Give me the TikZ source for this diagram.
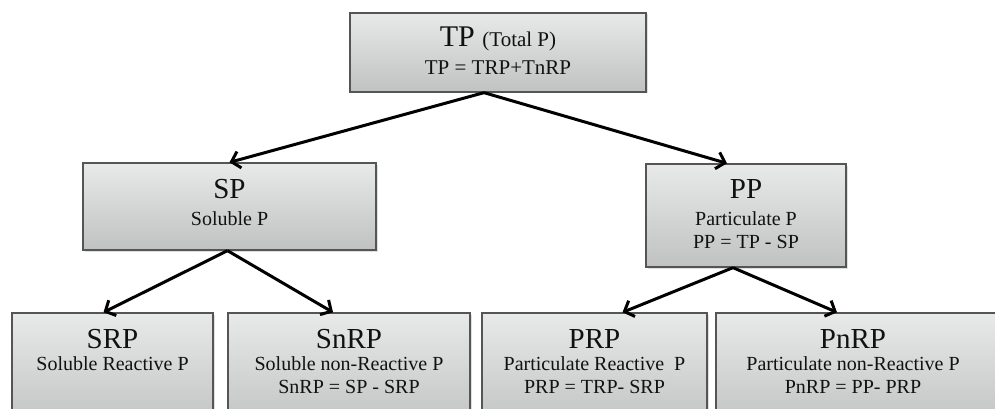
\documentclass[tikz,border=0pt]{standalone}
\usepackage{fontspec}
\setmainfont{Liberation Serif}
\usetikzlibrary{arrows.meta,shadows}
\definecolor{boxtop}{HTML}{E8E9E9}
\definecolor{boxbot}{HTML}{C0C2C2}
\definecolor{boxline}{HTML}{555555}
\definecolor{txt}{HTML}{111111}
\begin{document}
\begin{tikzpicture}[x=1pt,y=-1pt,
  box/.style={rectangle, draw=boxline, line width=1.3pt, top color=boxtop, bottom color=boxbot, inner sep=0pt,
    drop shadow={opacity=0.25, shadow xshift=1.5pt, shadow yshift=-1.5pt}},
  arr/.style={line width=3pt, -{Straight Barb[length=8pt,width=17pt,line width=3pt]}},
  big/.style={anchor=base, text=txt, inner sep=0pt, font=\fontsize{29}{29}\selectfont},
  sm/.style={anchor=base, text=txt, inner sep=0pt, font=\fontsize{20}{20}\selectfont}]
\useasboundingbox (0,0) rectangle (995,409);
\clip (0,0) rectangle (995,409);
% boxes
\node[box, minimum width=296pt, minimum height=79pt] (tp) at (498,52.5) {};
\node[box, minimum width=293pt, minimum height=87pt] (sp) at (229.5,206.5) {};
\node[box, minimum width=200pt, minimum height=103pt] (pp) at (746,215.5) {};
\node[box, minimum width=201pt, minimum height=117pt] (srp) at (112.5,371.5) {};
\node[box, minimum width=242pt, minimum height=117pt] (snrp) at (349,371.5) {};
\node[box, minimum width=225pt, minimum height=117pt] (prp) at (594.5,371.5) {};
\node[box, minimum width=284pt, minimum height=117pt] (pnrp) at (858,371.5) {};
% texts
\node[big, font=\fontsize{30}{30}\selectfont] (tpt1) at (498,47) {TP {\fontsize{21}{21}\selectfont (Total P)}};
\node[sm, font=\fontsize{21}{21}\selectfont] (tpt2) at (498,75) {TP = TRP+TnRP};
\node[big] (spt1) at (229.5,198) {SP};
\node[sm] (spt2) at (229.5,225) {Soluble P};
\node[big] (ppt1) at (746,198) {PP};
\node[sm] (ppt2) at (746,225) {Particulate P};
\node[sm] (ppt3) at (746,248) {PP = TP - SP};
\node[big] (srpt1) at (112.5,348) {SRP};
\node[sm] (srpt2) at (112.5,370) {Soluble Reactive P};
\node[big] (snrpt1) at (349,348) {SnRP};
\node[sm] (snrpt2) at (349,370) {Soluble non-Reactive P};
\node[sm] (snrpt3) at (349,393) {SnRP = SP - SRP};
\node[big] (prpt1) at (594.5,348) {PRP};
\node[sm] (prpt2) at (594.5,370) {Particulate Reactive\ \ P};
\node[sm] (prpt3) at (594.5,393) {PRP = TRP- SRP};
\node[big] (pnrpt1) at (853,348) {PnRP};
\node[sm] (pnrpt2) at (853,370) {Particulate non-Reactive P};
\node[sm] (pnrpt3) at (853,393) {PnRP = PP- PRP};
% connectors
\draw[arr] ([xshift=-14pt]tp.south) -- ([xshift=0pt]sp.north);
\draw[arr] ([xshift=-14pt]tp.south) -- ([xshift=-19pt]pp.north);
\draw[arr] ([xshift=-2pt]sp.south) -- ([xshift=-9pt]srp.north);
\draw[arr] ([xshift=-2pt]sp.south) -- ([xshift=-16pt]snrp.north);
\draw[arr] ([xshift=-13pt]pp.south) -- ([xshift=28pt]prp.north);
\draw[arr] ([xshift=-13pt]pp.south) -- ([xshift=-21pt]pnrp.north);
\end{tikzpicture}
\end{document}
